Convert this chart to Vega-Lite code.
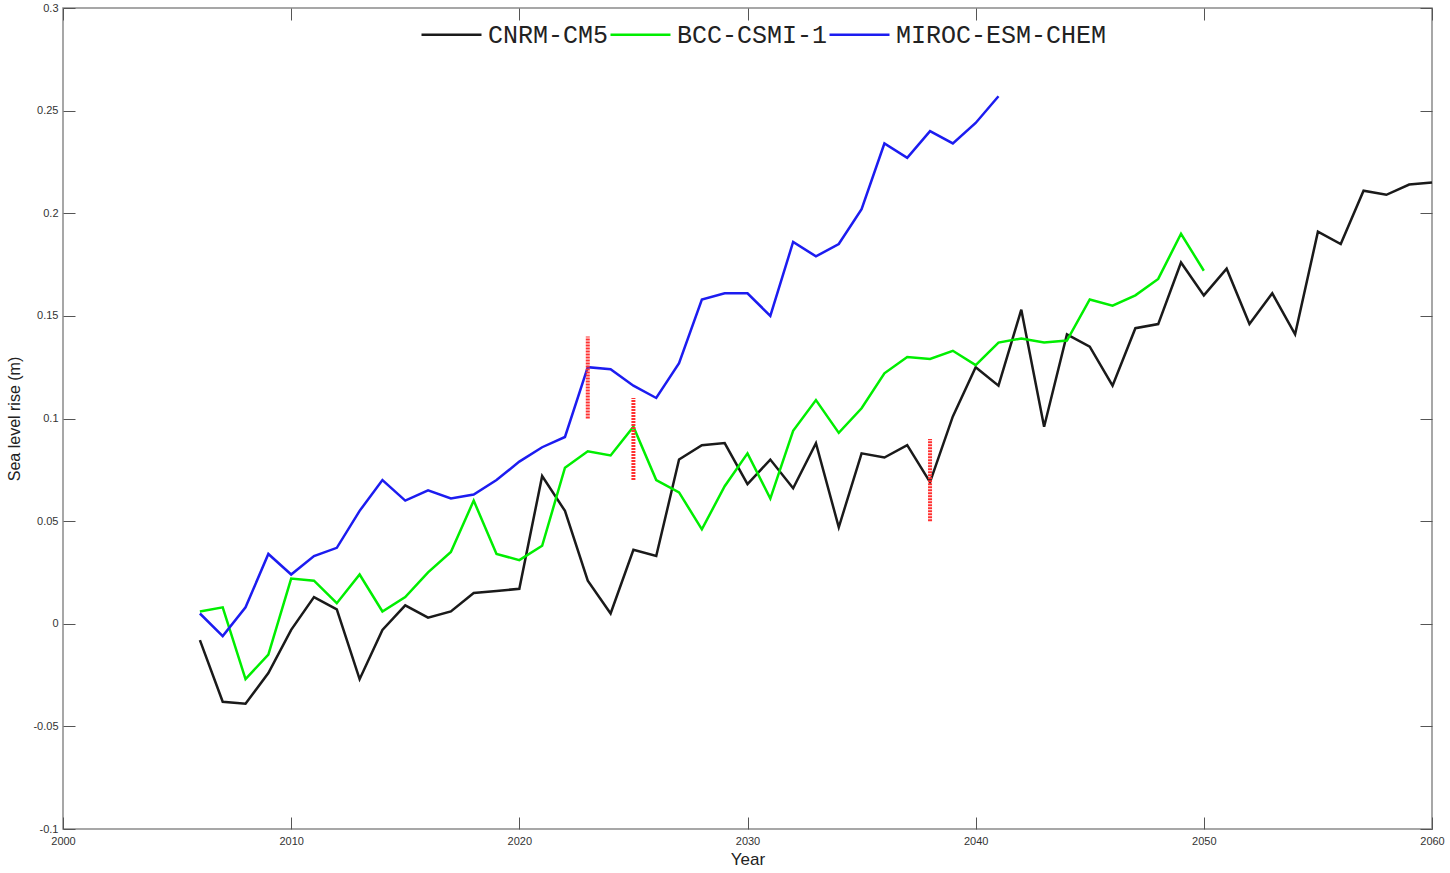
{
  "$schema": "https://vega.github.io/schema/vega-lite/v6.json",
  "width": 1369,
  "height": 821,
  "autosize": "none",
  "padding": {"left": 63, "top": 8, "right": 18, "bottom": 44},
  "background": "white",
  "config": {
    "view": {"stroke": "#8a8a8a", "strokeWidth": 1.5},
    "axis": {"labelFont": "Liberation Sans", "titleFont": "Liberation Sans", "labelColor": "#333", "titleColor": "#222", "domainColor": "#8a8a8a", "tickColor": "#555", "grid": false, "labelFlush": false}
  },
  "resolve": {"axis": {"x": "independent", "y": "independent"}},
  "datasets": {
    "series": [
      {"model": "CNRM-CM5", "year": 2006, "value": -0.008},
      {"model": "CNRM-CM5", "year": 2007, "value": -0.038},
      {"model": "CNRM-CM5", "year": 2008, "value": -0.039},
      {"model": "CNRM-CM5", "year": 2009, "value": -0.024},
      {"model": "CNRM-CM5", "year": 2010, "value": -0.003},
      {"model": "CNRM-CM5", "year": 2011, "value": 0.013},
      {"model": "CNRM-CM5", "year": 2012, "value": 0.007},
      {"model": "CNRM-CM5", "year": 2013, "value": -0.027},
      {"model": "CNRM-CM5", "year": 2014, "value": -0.003},
      {"model": "CNRM-CM5", "year": 2015, "value": 0.009},
      {"model": "CNRM-CM5", "year": 2016, "value": 0.003},
      {"model": "CNRM-CM5", "year": 2017, "value": 0.006},
      {"model": "CNRM-CM5", "year": 2018, "value": 0.015},
      {"model": "CNRM-CM5", "year": 2019, "value": 0.016},
      {"model": "CNRM-CM5", "year": 2020, "value": 0.017},
      {"model": "CNRM-CM5", "year": 2021, "value": 0.072},
      {"model": "CNRM-CM5", "year": 2022, "value": 0.055},
      {"model": "CNRM-CM5", "year": 2023, "value": 0.021},
      {"model": "CNRM-CM5", "year": 2024, "value": 0.005},
      {"model": "CNRM-CM5", "year": 2025, "value": 0.036},
      {"model": "CNRM-CM5", "year": 2026, "value": 0.033},
      {"model": "CNRM-CM5", "year": 2027, "value": 0.080},
      {"model": "CNRM-CM5", "year": 2028, "value": 0.087},
      {"model": "CNRM-CM5", "year": 2029, "value": 0.088},
      {"model": "CNRM-CM5", "year": 2030, "value": 0.068},
      {"model": "CNRM-CM5", "year": 2031, "value": 0.080},
      {"model": "CNRM-CM5", "year": 2032, "value": 0.066},
      {"model": "CNRM-CM5", "year": 2033, "value": 0.088},
      {"model": "CNRM-CM5", "year": 2034, "value": 0.047},
      {"model": "CNRM-CM5", "year": 2035, "value": 0.083},
      {"model": "CNRM-CM5", "year": 2036, "value": 0.081},
      {"model": "CNRM-CM5", "year": 2037, "value": 0.087},
      {"model": "CNRM-CM5", "year": 2038, "value": 0.069},
      {"model": "CNRM-CM5", "year": 2039, "value": 0.101},
      {"model": "CNRM-CM5", "year": 2040, "value": 0.125},
      {"model": "CNRM-CM5", "year": 2041, "value": 0.116},
      {"model": "CNRM-CM5", "year": 2042, "value": 0.153},
      {"model": "CNRM-CM5", "year": 2043, "value": 0.096},
      {"model": "CNRM-CM5", "year": 2044, "value": 0.141},
      {"model": "CNRM-CM5", "year": 2045, "value": 0.135},
      {"model": "CNRM-CM5", "year": 2046, "value": 0.116},
      {"model": "CNRM-CM5", "year": 2047, "value": 0.144},
      {"model": "CNRM-CM5", "year": 2048, "value": 0.146},
      {"model": "CNRM-CM5", "year": 2049, "value": 0.176},
      {"model": "CNRM-CM5", "year": 2050, "value": 0.160},
      {"model": "CNRM-CM5", "year": 2051, "value": 0.173},
      {"model": "CNRM-CM5", "year": 2052, "value": 0.146},
      {"model": "CNRM-CM5", "year": 2053, "value": 0.161},
      {"model": "CNRM-CM5", "year": 2054, "value": 0.141},
      {"model": "CNRM-CM5", "year": 2055, "value": 0.191},
      {"model": "CNRM-CM5", "year": 2056, "value": 0.185},
      {"model": "CNRM-CM5", "year": 2057, "value": 0.211},
      {"model": "CNRM-CM5", "year": 2058, "value": 0.209},
      {"model": "CNRM-CM5", "year": 2059, "value": 0.214},
      {"model": "CNRM-CM5", "year": 2060, "value": 0.215},
      {"model": "BCC-CSMI-1", "year": 2006, "value": 0.006},
      {"model": "BCC-CSMI-1", "year": 2007, "value": 0.008},
      {"model": "BCC-CSMI-1", "year": 2008, "value": -0.027},
      {"model": "BCC-CSMI-1", "year": 2009, "value": -0.015},
      {"model": "BCC-CSMI-1", "year": 2010, "value": 0.022},
      {"model": "BCC-CSMI-1", "year": 2011, "value": 0.021},
      {"model": "BCC-CSMI-1", "year": 2012, "value": 0.010},
      {"model": "BCC-CSMI-1", "year": 2013, "value": 0.024},
      {"model": "BCC-CSMI-1", "year": 2014, "value": 0.006},
      {"model": "BCC-CSMI-1", "year": 2015, "value": 0.013},
      {"model": "BCC-CSMI-1", "year": 2016, "value": 0.025},
      {"model": "BCC-CSMI-1", "year": 2017, "value": 0.035},
      {"model": "BCC-CSMI-1", "year": 2018, "value": 0.060},
      {"model": "BCC-CSMI-1", "year": 2019, "value": 0.034},
      {"model": "BCC-CSMI-1", "year": 2020, "value": 0.031},
      {"model": "BCC-CSMI-1", "year": 2021, "value": 0.038},
      {"model": "BCC-CSMI-1", "year": 2022, "value": 0.076},
      {"model": "BCC-CSMI-1", "year": 2023, "value": 0.084},
      {"model": "BCC-CSMI-1", "year": 2024, "value": 0.082},
      {"model": "BCC-CSMI-1", "year": 2025, "value": 0.096},
      {"model": "BCC-CSMI-1", "year": 2026, "value": 0.070},
      {"model": "BCC-CSMI-1", "year": 2027, "value": 0.064},
      {"model": "BCC-CSMI-1", "year": 2028, "value": 0.046},
      {"model": "BCC-CSMI-1", "year": 2029, "value": 0.067},
      {"model": "BCC-CSMI-1", "year": 2030, "value": 0.083},
      {"model": "BCC-CSMI-1", "year": 2031, "value": 0.061},
      {"model": "BCC-CSMI-1", "year": 2032, "value": 0.094},
      {"model": "BCC-CSMI-1", "year": 2033, "value": 0.109},
      {"model": "BCC-CSMI-1", "year": 2034, "value": 0.093},
      {"model": "BCC-CSMI-1", "year": 2035, "value": 0.105},
      {"model": "BCC-CSMI-1", "year": 2036, "value": 0.122},
      {"model": "BCC-CSMI-1", "year": 2037, "value": 0.130},
      {"model": "BCC-CSMI-1", "year": 2038, "value": 0.129},
      {"model": "BCC-CSMI-1", "year": 2039, "value": 0.133},
      {"model": "BCC-CSMI-1", "year": 2040, "value": 0.126},
      {"model": "BCC-CSMI-1", "year": 2041, "value": 0.137},
      {"model": "BCC-CSMI-1", "year": 2042, "value": 0.139},
      {"model": "BCC-CSMI-1", "year": 2043, "value": 0.137},
      {"model": "BCC-CSMI-1", "year": 2044, "value": 0.138},
      {"model": "BCC-CSMI-1", "year": 2045, "value": 0.158},
      {"model": "BCC-CSMI-1", "year": 2046, "value": 0.155},
      {"model": "BCC-CSMI-1", "year": 2047, "value": 0.160},
      {"model": "BCC-CSMI-1", "year": 2048, "value": 0.168},
      {"model": "BCC-CSMI-1", "year": 2049, "value": 0.190},
      {"model": "BCC-CSMI-1", "year": 2050, "value": 0.172},
      {"model": "MIROC-ESM-CHEM", "year": 2006, "value": 0.005},
      {"model": "MIROC-ESM-CHEM", "year": 2007, "value": -0.006},
      {"model": "MIROC-ESM-CHEM", "year": 2008, "value": 0.008},
      {"model": "MIROC-ESM-CHEM", "year": 2009, "value": 0.034},
      {"model": "MIROC-ESM-CHEM", "year": 2010, "value": 0.024},
      {"model": "MIROC-ESM-CHEM", "year": 2011, "value": 0.033},
      {"model": "MIROC-ESM-CHEM", "year": 2012, "value": 0.037},
      {"model": "MIROC-ESM-CHEM", "year": 2013, "value": 0.055},
      {"model": "MIROC-ESM-CHEM", "year": 2014, "value": 0.070},
      {"model": "MIROC-ESM-CHEM", "year": 2015, "value": 0.060},
      {"model": "MIROC-ESM-CHEM", "year": 2016, "value": 0.065},
      {"model": "MIROC-ESM-CHEM", "year": 2017, "value": 0.061},
      {"model": "MIROC-ESM-CHEM", "year": 2018, "value": 0.063},
      {"model": "MIROC-ESM-CHEM", "year": 2019, "value": 0.070},
      {"model": "MIROC-ESM-CHEM", "year": 2020, "value": 0.079},
      {"model": "MIROC-ESM-CHEM", "year": 2021, "value": 0.086},
      {"model": "MIROC-ESM-CHEM", "year": 2022, "value": 0.091},
      {"model": "MIROC-ESM-CHEM", "year": 2023, "value": 0.125},
      {"model": "MIROC-ESM-CHEM", "year": 2024, "value": 0.124},
      {"model": "MIROC-ESM-CHEM", "year": 2025, "value": 0.116},
      {"model": "MIROC-ESM-CHEM", "year": 2026, "value": 0.110},
      {"model": "MIROC-ESM-CHEM", "year": 2027, "value": 0.127},
      {"model": "MIROC-ESM-CHEM", "year": 2028, "value": 0.158},
      {"model": "MIROC-ESM-CHEM", "year": 2029, "value": 0.161},
      {"model": "MIROC-ESM-CHEM", "year": 2030, "value": 0.161},
      {"model": "MIROC-ESM-CHEM", "year": 2031, "value": 0.150},
      {"model": "MIROC-ESM-CHEM", "year": 2032, "value": 0.186},
      {"model": "MIROC-ESM-CHEM", "year": 2033, "value": 0.179},
      {"model": "MIROC-ESM-CHEM", "year": 2034, "value": 0.185},
      {"model": "MIROC-ESM-CHEM", "year": 2035, "value": 0.202},
      {"model": "MIROC-ESM-CHEM", "year": 2036, "value": 0.234},
      {"model": "MIROC-ESM-CHEM", "year": 2037, "value": 0.227},
      {"model": "MIROC-ESM-CHEM", "year": 2038, "value": 0.240},
      {"model": "MIROC-ESM-CHEM", "year": 2039, "value": 0.234},
      {"model": "MIROC-ESM-CHEM", "year": 2040, "value": 0.244},
      {"model": "MIROC-ESM-CHEM", "year": 2041, "value": 0.257}
    ],
    "markers": [
      {"year": 2023, "lo": 0.10, "hi": 0.14},
      {"year": 2025, "lo": 0.07, "hi": 0.11},
      {"year": 2038, "lo": 0.05, "hi": 0.09}
    ]
  },
  "layer": [
    {
      "data": {"name": "series"},
      "mark": {"type": "line", "strokeWidth": 2.5},
      "encoding": {
        "x": {"field": "year", "type": "quantitative",
              "scale": {"domain": [2000, 2060], "nice": false, "zero": false},
              "axis": {"orient": "bottom", "title": "Year", "values": [2000, 2010, 2020, 2030, 2040, 2050, 2060], "format": "d",
                       "tickSize": -12, "labelFontSize": 11, "labelPadding": 18, "titleFontSize": 17, "titleFontWeight": "normal", "titlePadding": 5, "domain": false}},
        "y": {"field": "value", "type": "quantitative",
              "scale": {"domain": [-0.1, 0.3], "nice": false, "zero": false},
              "axis": {"orient": "left", "title": "Sea level rise (m)", "values": [-0.1, -0.05, 0, 0.05, 0.1, 0.15, 0.2, 0.25, 0.3],
                       "labelExpr": "replace(format(datum.value, '~g'), '−', '-')",
                       "tickSize": -12, "labelFontSize": 11, "labelPadding": 17, "titleFontSize": 16, "titleFontWeight": "normal", "titlePadding": 10, "domain": false}},
        "color": {"field": "model", "type": "nominal",
                  "scale": {"domain": ["CNRM-CM5", "BCC-CSMI-1", "MIROC-ESM-CHEM"], "range": ["#1a1a1a", "#00ee00", "#1c1cf0"]},
                  "legend": {"title": null, "orient": "none", "legendX": 357, "legendY": -5, "direction": "horizontal", "columns": 3,
                             "symbolType": "stroke", "symbolSize": 3600, "symbolStrokeWidth": 2.5, "columnPadding": -8, "labelOffset": 5,
                             "labelFont": "Liberation Mono", "labelFontSize": 25, "labelColor": "#222", "labelLimit": 400}}
      }
    },
    {
      "data": {"name": "markers"},
      "mark": {"type": "rule", "color": "#ff3030", "strokeWidth": 4, "strokeDash": [2, 1]},
      "encoding": {
        "x": {"field": "year", "type": "quantitative",
              "axis": {"orient": "top", "title": null, "values": [2000, 2010, 2020, 2030, 2040, 2050, 2060], "labels": false, "tickSize": -12, "domain": false}},
        "y": {"field": "lo", "type": "quantitative",
              "axis": {"orient": "right", "title": null, "values": [-0.1, -0.05, 0, 0.05, 0.1, 0.15, 0.2, 0.25, 0.3], "labels": false, "tickSize": -12, "domain": false}},
        "y2": {"field": "hi"}
      }
    }
  ]
}
